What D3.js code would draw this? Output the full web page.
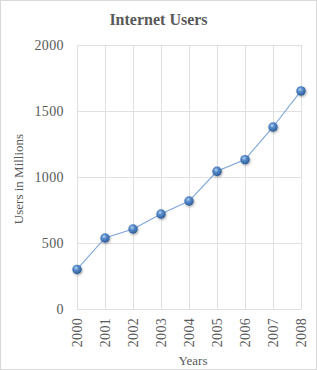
<!DOCTYPE html>
<html>
<head>
<meta charset="utf-8">
<script src="https://cdn.jsdelivr.net/npm/d3@7"></script>
<style>
  body { margin: 0; background: #fff; }
  svg text { font-family: "Liberation Serif", "DejaVu Serif", serif; fill: #595959; }
</style>
</head>
<body>
<div id="chart"></div>
<script>
const years = ["2000", "2001", "2002", "2003", "2004", "2005", "2006", "2007", "2008"];
const users = [300, 538, 606, 720, 818, 1043, 1132, 1379, 1652];
const yTicks = [0, 500, 1000, 1500, 2000];

const width = 317;
const height = 370;
const margin = { top: 45, right: 16, bottom: 61, left: 77 };

const svg = d3.select("#chart")
    .append("svg")
    .attr("width", width)
    .attr("height", height);

// chart border
svg.append("rect")
    .attr("x", 0.5).attr("y", 0.5)
    .attr("width", width - 1).attr("height", height - 1)
    .attr("fill", "#fff")
    .attr("stroke", "#d9d9d9");

const defs = svg.append("defs");
const grad = defs.append("radialGradient")
    .attr("id", "ball")
    .attr("cx", "40%").attr("cy", "35%").attr("r", "65%");
grad.append("stop").attr("offset", "0%").attr("stop-color", "#bcd6f3");
grad.append("stop").attr("offset", "35%").attr("stop-color", "#5b8fd0");
grad.append("stop").attr("offset", "100%").attr("stop-color", "#2d5c96");

const shadow = defs.append("filter").attr("id", "shadow")
    .attr("x", "-50%").attr("y", "-50%").attr("width", "200%").attr("height", "200%");
shadow.append("feDropShadow")
    .attr("dx", 0.8).attr("dy", 1.2).attr("stdDeviation", 0.9)
    .attr("flood-color", "#000").attr("flood-opacity", 0.35);

const x = d3.scalePoint()
    .domain(years)
    .range([margin.left, width - margin.right]);

const y = d3.scaleLinear()
    .domain([0, 2000])
    .range([height - margin.bottom, margin.top]);

// gridlines
svg.append("g")
    .selectAll("line.h")
    .data(yTicks)
    .enter()
    .append("line")
    .attr("x1", margin.left).attr("x2", width - margin.right)
    .attr("y1", d => Math.round(y(d)) + 0.5).attr("y2", d => Math.round(y(d)) + 0.5)
    .attr("stroke", "#e0e0e0");

svg.append("g")
    .selectAll("line.v")
    .data(years)
    .enter()
    .append("line")
    .attr("x1", d => Math.round(x(d)) + 0.5).attr("x2", d => Math.round(x(d)) + 0.5)
    .attr("y1", margin.top).attr("y2", height - margin.bottom)
    .attr("stroke", "#e0e0e0");

// y axis
const yAxis = svg.append("g")
    .attr("transform", `translate(${margin.left - 13},0)`)
    .call(d3.axisLeft(y).tickValues(yTicks).tickFormat(d3.format("d")).tickSize(0).tickPadding(0));
yAxis.select(".domain").remove();
yAxis.selectAll("text")
    .style("font-size", "14px")
    .style("letter-spacing", "0.4px")
    .attr("fill", "#666");

// x axis
const xAxis = svg.append("g")
    .attr("transform", `translate(0,${height - margin.bottom})`)
    .call(d3.axisBottom(x).tickSize(0).tickPadding(0));
xAxis.select(".domain").remove();
xAxis.selectAll("text")
    .style("font-size", "14px")
    .style("letter-spacing", "0.3px")
    .attr("fill", "#666")
    .attr("text-anchor", "end")
    .attr("dy", "0.35em")
    .attr("transform", "translate(0,9) rotate(-90)");

// line
svg.append("path")
    .datum(users)
    .attr("fill", "none")
    .attr("stroke", "#7ea6da")
    .attr("stroke-width", 1.1)
    .attr("d", d3.line().x((d, i) => x(years[i])).y(d => y(d)));

// markers
svg.append("g")
    .selectAll("circle")
    .data(users)
    .enter()
    .append("circle")
    .attr("cx", (d, i) => x(years[i]))
    .attr("cy", d => y(d))
    .attr("r", 4.7)
    .attr("fill", "url(#ball)")
    .attr("filter", "url(#shadow)");

// titles
svg.append("text")
    .attr("x", 158.5).attr("y", 25)
    .attr("text-anchor", "middle")
    .style("font-size", "16px")
    .style("font-weight", "bold")
    .text("Internet Users");

svg.append("text")
    .attr("transform", `translate(23,179) rotate(-90)`)
    .attr("text-anchor", "middle")
    .style("font-size", "13px")
    .attr("fill", "#666")
    .text("Users in Millions");

svg.append("text")
    .attr("x", 193).attr("y", 365)
    .attr("text-anchor", "middle")
    .style("font-size", "13px")
    .attr("fill", "#666")
    .text("Years");
</script>
</body>
</html>
